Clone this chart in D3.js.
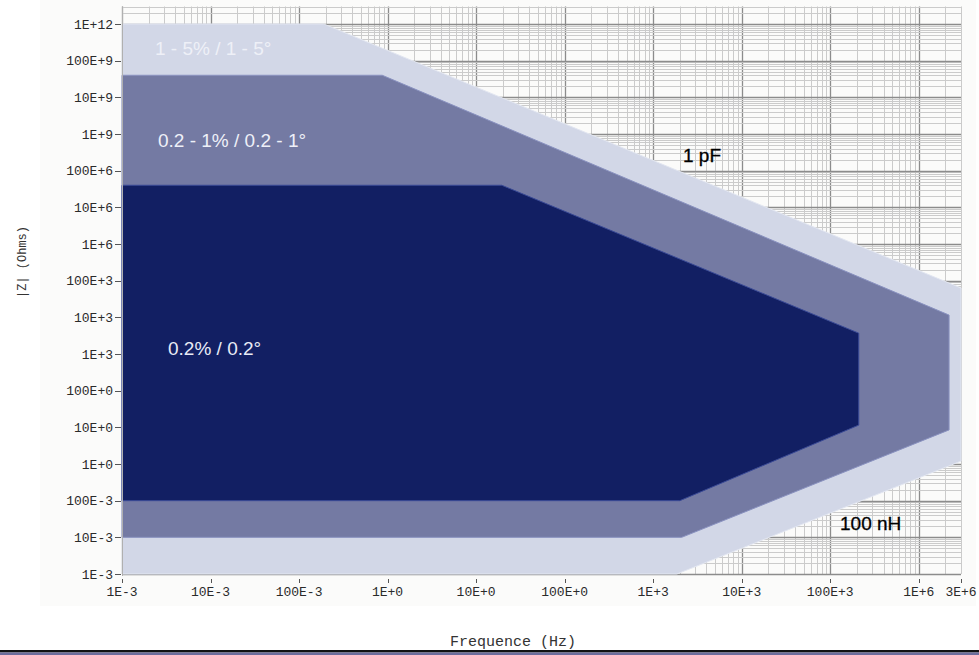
<!DOCTYPE html>
<html>
<head>
<meta charset="utf-8">
<script src="https://cdnjs.cloudflare.com/ajax/libs/d3/7.8.5/d3.min.js"></script>
<style>
  body { margin: 0; background: #fff; }
  svg { display: block; }
</style>
</head>
<body>
<svg width="979" height="655"></svg>
<script>
// accuracy zones, vertices (Hz, Ohms)
var lightFreq = [1e-3, 0.19, 3e6, 3e6, 1.85e3, 1e-3];
var lightZ    = [1e12, 1e12, 6.3e4, 1.2, 1e-3, 1e-3];

var midFreq = [1e-3, 0.87, 2.2e6, 2.2e6, 2.1e3, 1e-3];
var midZ    = [4e10, 4e10, 1.15e4, 8.5, 1e-2, 1e-2];

var darkFreq = [1e-3, 19.5, 2.1e5, 2.1e5, 2e3, 1e-3];
var darkZ    = [4e7, 4e7, 3.7e3, 11.5, 0.1, 0.1];

var zoneNames = ["1 - 5% / 1 - 5°", "0.2 - 1% / 0.2 - 1°", "0.2% / 0.2°"];
var lineNames = ["1 pF", "100 nH"];

var xTicks = [1e-3, 1e-2, 1e-1, 1, 10, 100, 1e3, 1e4, 1e5, 1e6, 3e6];
var xTickLabels = ["1E-3", "10E-3", "100E-3", "1E+0", "10E+0", "100E+0", "1E+3", "10E+3", "100E+3", "1E+6", "3E+6"];

var yTicks = [1e12, 1e11, 1e10, 1e9, 1e8, 1e7, 1e6, 1e5, 1e4, 1e3, 100, 10, 1, 0.1, 0.01, 1e-3];
var yTickLabels = ["1E+12", "100E+9", "10E+9", "1E+9", "100E+6", "10E+6", "1E+6", "100E+3", "10E+3", "1E+3", "100E+0", "10E+0", "1E+0", "100E-3", "10E-3", "1E-3"];

var svg = d3.select("svg");

// faint panel behind the plot
svg.append("rect")
    .attr("x", 40).attr("y", 0)
    .attr("width", 936).attr("height", 606)
    .attr("fill", "#fbfbfa");

var x = d3.scaleLog().domain([1e-3, 3e6]).range([122, 961]);
var y = d3.scaleLog().domain([1e-3, 3e12]).range([574, 6.5]);

var g = svg.append("g");

// log grid
var xGrid = [], yGrid = [];
for (var e = -3; e <= 6; e++) {
    for (var m = 1; m < 10; m++) {
        var v = m * Math.pow(10, e);
        if (v <= 3e6 * 1.0001) xGrid.push({v: v, major: m == 1});
    }
}
for (var e = -3; e <= 12; e++) {
    for (var m = 1; m < 10; m++) {
        var v = m * Math.pow(10, e);
        if (v <= 3e12 * 1.0001) yGrid.push({v: v, major: m == 1});
    }
}

g.selectAll(".vgrid").data(xGrid)
    .enter().append("line")
    .attr("class", "vgrid")
    .attr("x1", function(d) { return Math.round(x(d.v)) + 0.5; })
    .attr("x2", function(d) { return Math.round(x(d.v)) + 0.5; })
    .attr("y1", y(3e12)).attr("y2", y(1e-3))
    .attr("stroke", function(d) { return d.major ? "#8c8c8c" : "#cbcbcb"; })
    .attr("stroke-width", function(d) { return d.major ? 1.3 : 1; });

g.selectAll(".hgrid").data(yGrid)
    .enter().append("line")
    .attr("class", "hgrid")
    .attr("y1", function(d) { return Math.round(y(d.v)) + 0.5; })
    .attr("y2", function(d) { return Math.round(y(d.v)) + 0.5; })
    .attr("x1", x(1e-3)).attr("x2", x(3e6))
    .attr("stroke", function(d) { return d.major ? "#8c8c8c" : "#cbcbcb"; })
    .attr("stroke-width", function(d) { return d.major ? 1.3 : 1; });

// zones
var zones = [
    {f: lightFreq, z: lightZ, fill: "#d2d7e7", edge: "#e2e6f1"},
    {f: midFreq, z: midZ, fill: "#747aa3", edge: "#8a92c0"},
    {f: darkFreq, z: darkZ, fill: "#121f63", edge: "#3a4a96"}
];

var area = d3.line()
    .x(function(d) { return x(d[0]); })
    .y(function(d) { return y(d[1]); });

g.selectAll(".zone").data(zones)
    .enter().append("path")
    .attr("class", "zone")
    .attr("d", function(d) {
        return area(d3.zip(d.f, d.z)) + "Z";
    })
    .attr("fill", function(d) { return d.fill; })
    .attr("stroke", function(d) { return d.edge; })
    .attr("stroke-width", 1);

// axes
var tickFont = "'Liberation Mono', 'DejaVu Sans Mono', monospace";

g.append("line")
    .attr("x1", x(1e-3) + 0.5).attr("x2", x(1e-3) + 0.5)
    .attr("y1", y(3e12)).attr("y2", y(1e-3) + 2)
    .attr("stroke", "#b0b0b0");

g.selectAll(".ytick").data(yTicks)
    .enter().append("line")
    .attr("class", "ytick")
    .attr("x1", 115).attr("x2", 121)
    .attr("y1", function(d) { return Math.round(y(d)) + 0.5; })
    .attr("y2", function(d) { return Math.round(y(d)) + 0.5; })
    .attr("stroke", "#555");

g.selectAll(".ylab").data(yTicks)
    .enter().append("text")
    .attr("class", "ylab")
    .attr("x", 113)
    .attr("y", function(d) { return y(d); })
    .attr("dy", "0.35em")
    .attr("text-anchor", "end")
    .style("font", "13px " + tickFont)
    .attr("fill", "#2a2a2a")
    .text(function(d, i) { return yTickLabels[i]; });

g.selectAll(".xtick").data(xTicks)
    .enter().append("line")
    .attr("class", "xtick")
    .attr("x1", function(d) { return Math.round(x(d)) + 0.5; })
    .attr("x2", function(d) { return Math.round(x(d)) + 0.5; })
    .attr("y1", 579).attr("y2", 583)
    .attr("stroke", "#555");

g.selectAll(".xlab").data(xTicks)
    .enter().append("text")
    .attr("class", "xlab")
    .attr("x", function(d) { return x(d); })
    .attr("y", 596)
    .attr("text-anchor", "middle")
    .style("font", "13px " + tickFont)
    .attr("fill", "#2a2a2a")
    .text(function(d, i) { return xTickLabels[i]; });

svg.append("text")
    .attr("x", 513).attr("y", 646)
    .attr("text-anchor", "middle")
    .style("font", "15px " + tickFont)
    .attr("fill", "#333")
    .text("Frequence (Hz)");

svg.append("text")
    .attr("transform", "translate(26,262) rotate(-90)")
    .attr("text-anchor", "middle")
    .style("font", "12px " + tickFont)
    .attr("fill", "#333")
    .text("|Z|  (Ohms)");

// zone and line labels
var labelFont = "'Liberation Sans', Arial, sans-serif";
var zoneLabelPos = [[155, 55, "#eef0f7"], [158, 147, "#eef0f8"], [168, 355, "#e8ebf6"]];
svg.selectAll(".zlab").data(zoneNames)
    .enter().append("text")
    .attr("class", "zlab")
    .attr("x", function(d, i) { return zoneLabelPos[i][0]; })
    .attr("y", function(d, i) { return zoneLabelPos[i][1]; })
    .style("font", "19px " + labelFont)
    .attr("fill", function(d, i) { return zoneLabelPos[i][2]; })
    .text(function(d) { return d; });

var lineLabelPos = [[683, 162], [840, 530]];
svg.selectAll(".llab").data(lineNames)
    .enter().append("text")
    .attr("class", "llab")
    .attr("x", function(d, i) { return lineLabelPos[i][0]; })
    .attr("y", function(d, i) { return lineLabelPos[i][1]; })
    .style("font", "19px " + labelFont)
    .attr("fill", "#000")
    .attr("stroke", "#000")
    .attr("stroke-width", 0.3)
    .text(function(d) { return d; });

// frame at the very bottom of the image
svg.append("rect").attr("x", 0).attr("y", 650).attr("width", 979).attr("height", 2.5).attr("fill", "#111");
svg.append("rect").attr("x", 0).attr("y", 652.5).attr("width", 979).attr("height", 2.5).attr("fill", "#6c6c9c");
</script>
</body>
</html>
